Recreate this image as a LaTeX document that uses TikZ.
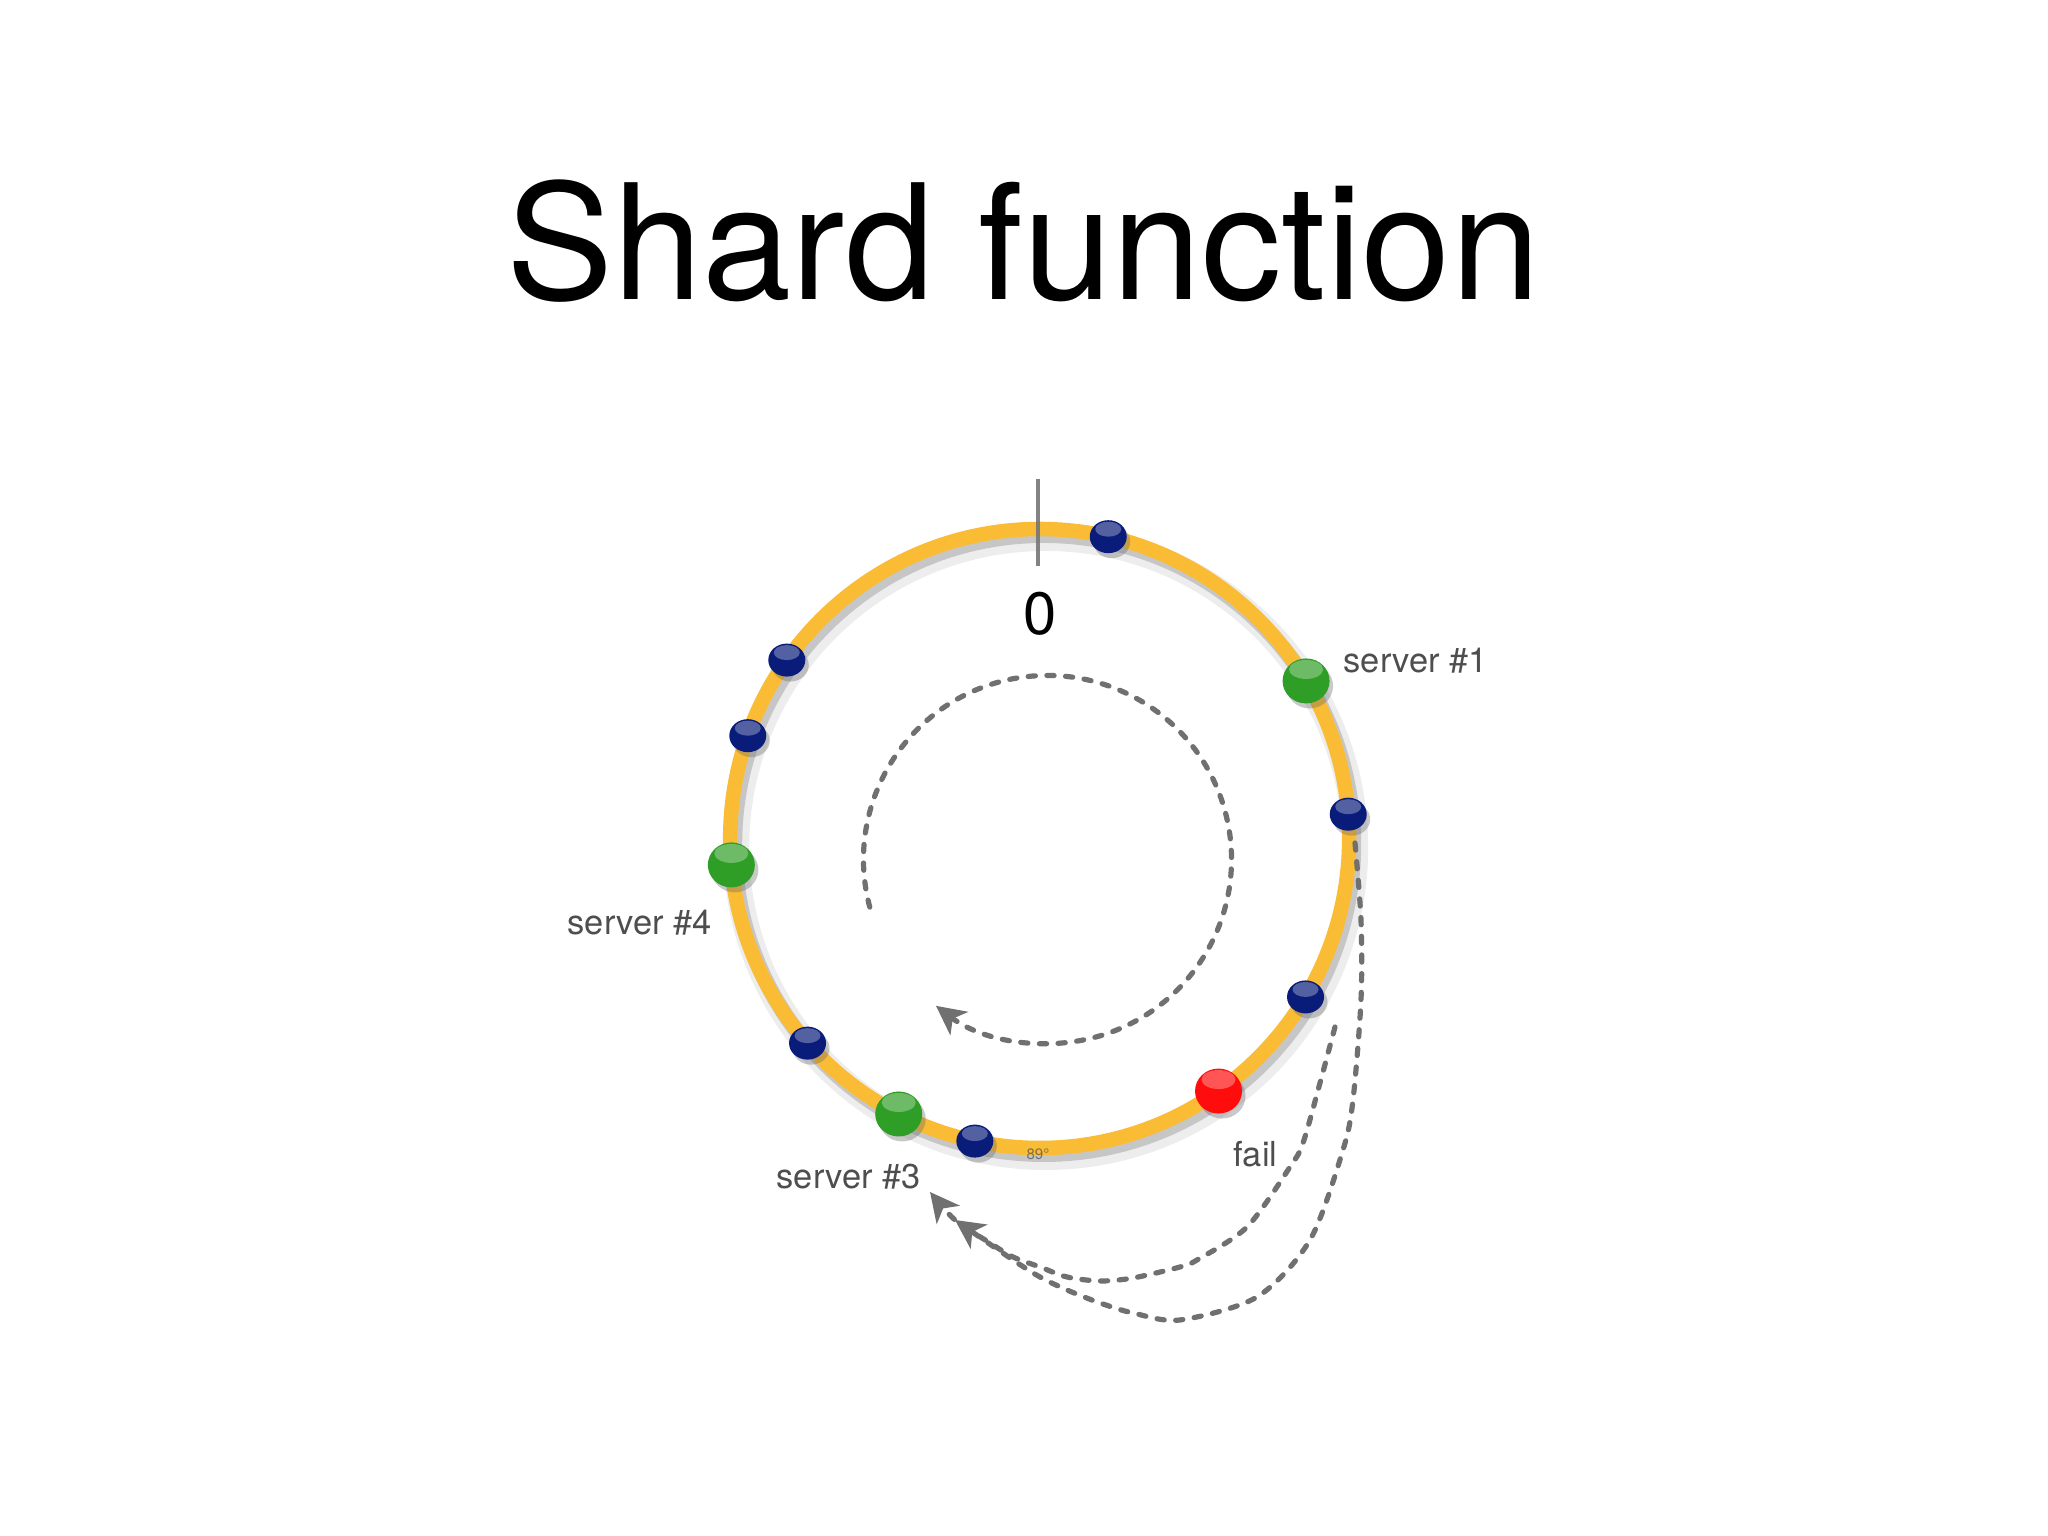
\documentclass[tikz,border=0pt]{standalone}
\usepackage{fontspec}
\setmainfont{TeX Gyre Heros}
\usetikzlibrary{arrows.meta,shapes.geometric,shadows}
\definecolor{ringc}{RGB}{250,188,52}
\definecolor{navy}{RGB}{10,28,122}
\definecolor{ballgreen}{RGB}{46,158,38}
\definecolor{ballred}{RGB}{255,12,12}
\definecolor{dashc}{RGB}{112,112,112}
\definecolor{labc}{RGB}{78,78,78}
\definecolor{tickc}{RGB}{118,118,118}
\tikzset{
  ballbase/.style={ellipse, inner sep=0pt, draw=none,
    drop shadow={shadow xshift=0.35mm, shadow yshift=-0.5mm, opacity=0.35, fill=black!60}},
  smallball/.style={ballbase, minimum width=3.7mm, minimum height=3.3mm, fill=navy,
    path picture={\fill[white,opacity=.3] ([yshift=-0.9mm]path picture bounding box.north) ellipse[x radius=1.3mm,y radius=0.75mm];}},
  bigball/.style={ballbase, minimum width=4.7mm, minimum height=4.5mm, fill=#1,
    path picture={\fill[white,opacity=.3] ([yshift=-1.1mm]path picture bounding box.north) ellipse[x radius=1.7mm,y radius=0.95mm];}},
  lab/.style={text=labc, inner sep=0pt, font=\fontsize{9.8}{12}\selectfont},
  dashline/.style={dashc, line width=0.52mm, line cap=round, dash pattern=on 0.72mm off 1.15mm},
  tip/.style={-{Stealth[length=2.9mm,width=2.9mm,inset=0.8mm,line cap=butt]}},
}
\begin{document}
\begin{tikzpicture}
\fill[white] (0,0) rectangle (20.48,15.36);
\useasboundingbox (0,0) rectangle (20.48,15.36);
% title
\node[anchor=base, inner sep=0pt, font=\fontsize{45.6}{54}\selectfont] (title) at (10.235,12.36) {Shard function};
% ring
\coordinate (c) at (10.397,6.975);
\draw[black, opacity=0.07, line width=2.6mm] ([shift={(0.06,-0.09)}]c) circle[radius=3.095];
\draw[black, opacity=0.16, line width=1.6mm] ([shift={(0.04,-0.06)}]c) circle[radius=3.095];
\draw[ringc, line width=1.45mm] (c) circle[radius=3.095];
% zero tick
\coordinate (tickt) at (10.38,10.57);
\coordinate (tickb) at (10.38,9.70);
\draw[tickc, opacity=0.9, line width=0.4mm] (tickt) -- (tickb);
\node[anchor=base, inner sep=0pt, font=\fontsize{17}{20}\selectfont] (zero) at (10.40,9.01) {0};
\node[inner sep=0pt, text=black!70, opacity=0.7, font=\fontsize{4.3}{5}\selectfont] (deg) at (10.38,3.82) {89°};
% balls
\node[smallball] (b1) at ([shift={(77.2:3.095)}]c) {};
\node[bigball=ballgreen] (s1) at ([shift={(30.6:3.095)}]c) {};
\node[smallball] (b2) at ([shift={(4.5:3.095)}]c) {};
\node[smallball] (b3) at ([shift={(-30.8:3.095)}]c) {};
\node[bigball=ballred] (failball) at ([shift={(-54.7:3.095)}]c) {};
\node[smallball] (b4) at ([shift={(-102.1:3.095)}]c) {};
\node[bigball=ballgreen] (s3) at ([shift={(-117.1:3.095)}]c) {};
\node[smallball] (b5) at ([shift={(-138.6:3.095)}]c) {};
\node[bigball=ballgreen] (s4) at ([shift={(184.9:3.095)}]c) {};
\node[smallball] (b6) at ([shift={(160.6:3.095)}]c) {};
\node[smallball] (b7) at ([shift={(144.8:3.095)}]c) {};
% labels
\node[lab, anchor=west] (l1) at (13.43,8.75) {server \#1};
\node[lab, anchor=west] (l4) at (5.67,6.13) {server \#4};
\node[lab, anchor=west] (l3) at (7.76,3.59) {server \#3};
\node[lab, anchor=base west] (lf) at (12.33,3.69) {fail};
% inner dashed circular arrow
\coordinate (ic) at (10.475,6.765);
\draw[dashline, tip] ([shift={(195:1.84)}]ic) arc[start angle=195, end angle=-127.3, radius=1.84];
% outer dashed arrows
\coordinate (ostart) at (13.55,6.93);
\coordinate (istart) at (13.35,5.09);
\coordinate (otip) at (9.55,3.16);
\coordinate (itip) at (9.30,3.44);
\draw[dashline, tip] plot[smooth, tension=0.5] coordinates {(ostart) (13.61,6.16) (13.61,5.36) (13.53,4.36) (13.43,3.86) (13.10,2.96) (12.57,2.39) (11.80,2.16) (11.33,2.23) (11.00,2.33) (10.67,2.46) (10.40,2.59) (10.13,2.76) (otip)};
\draw[dashline, tip] plot[smooth, tension=0.5] coordinates {(istart) (13.20,4.53) (13.03,3.93) (12.90,3.69) (12.47,3.09) (11.97,2.76) (11.80,2.69) (11.33,2.58) (11.00,2.55) (10.67,2.59) (10.40,2.69) (10.13,2.79) (9.90,2.93) (9.55,3.16) (itip)};
\end{tikzpicture}
\end{document}
